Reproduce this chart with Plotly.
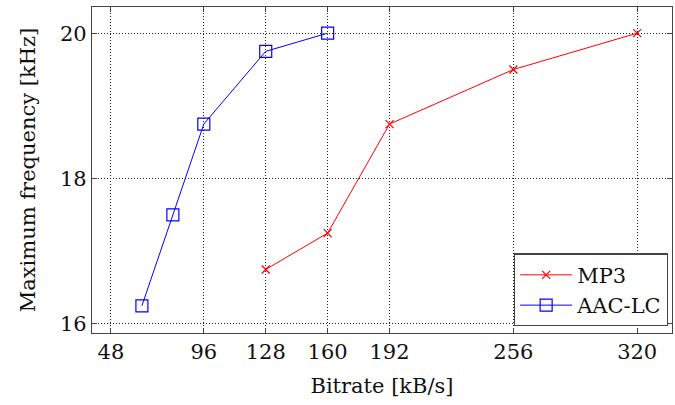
import plotly.graph_objects as go

mp3_bitrate = [128, 160, 192, 256, 320]
mp3_freq = [16.75, 17.25, 18.75, 19.5, 20.0]
aac_bitrate = [64, 80, 96, 128, 160]
aac_freq = [16.25, 17.5, 18.75, 19.75, 20.0]
x_ticks = [48, 96, 128, 160, 192, 256, 320]
y_ticks = [16, 18, 20]

font = "DejaVu Serif"
fs = 21

fig = go.Figure()
fig.add_trace(go.Scatter(x=mp3_bitrate, y=mp3_freq, name="MP3", mode="lines+markers",
                         line=dict(color="#ff0000", width=1),
                         marker=dict(symbol="x-thin", size=8, line=dict(color="#ff0000", width=1.2))))
fig.add_trace(go.Scatter(x=aac_bitrate, y=aac_freq, name="AAC-LC", mode="lines+markers",
                         line=dict(color="#0000ff", width=1),
                         marker=dict(symbol="square-open", size=12, color="#0000ff", line=dict(width=1.2))))

axis_common = dict(showline=True, linecolor="#444", linewidth=1.2, mirror="ticks",
                   ticks="inside", ticklen=5, tickcolor="#444",
                   showgrid=True, gridcolor="#222", griddash="1px,2px", gridwidth=1,
                   zeroline=False, tickfont=dict(family=font, size=fs, color="#111"))

fig.update_xaxes(range=[38.2, 338], tickvals=x_ticks, ticktext=[str(v) for v in x_ticks],
                 title=dict(text="Bitrate [kB/s]", font=dict(family=font, size=fs, color="#111"), standoff=15),
                 **axis_common)
fig.update_yaxes(range=[15.876, 20.36], tickvals=y_ticks, ticktext=[str(v) for v in y_ticks],
                 title=dict(text="Maximum frequency [kHz]", font=dict(family=font, size=fs, color="#111"), standoff=18),
                 **axis_common)

fig.update_layout(
    width=675, height=405,
    margin=dict(l=92, r=3, t=7, b=72),
    plot_bgcolor="white", paper_bgcolor="white",
    font=dict(family=font, size=fs, color="#111"),
    legend=dict(x=0.993, y=0.02, xanchor="right", yanchor="bottom",
                bordercolor="#444", borderwidth=1.2, bgcolor="white",
                font=dict(family=font, size=fs, color="#111"),
                tracegroupgap=0, itemwidth=52),
    showlegend=True,
)

fig.write_html("out.html")
